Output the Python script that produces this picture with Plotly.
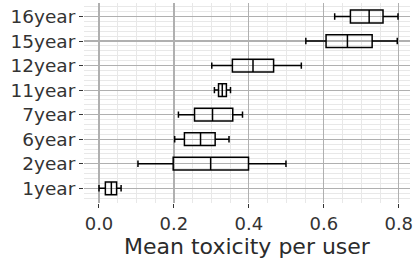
import plotly.graph_objects as go

categories = ["1year", "2year", "6year", "7year", "11year", "12year", "15year", "16year"]
lower = [0.000, 0.104, 0.202, 0.212, 0.308, 0.301, 0.552, 0.629]
q1 = [0.017, 0.198, 0.228, 0.255, 0.319, 0.356, 0.606, 0.671]
median = [0.033, 0.298, 0.271, 0.303, 0.329, 0.411, 0.663, 0.721]
q3 = [0.047, 0.399, 0.310, 0.357, 0.340, 0.466, 0.729, 0.758]
upper = [0.059, 0.499, 0.347, 0.383, 0.351, 0.540, 0.796, 0.798]
x_ticks = [0.0, 0.2, 0.4, 0.6, 0.8]
x_ticktext = ["0.0", "0.2", "0.4", "0.6", "0.8"]

pos = list(range(len(categories)))

fig = go.Figure()
fig.add_trace(go.Box(
    orientation="h",
    y=pos,
    q1=q1, median=median, q3=q3,
    lowerfence=lower, upperfence=upper,
    width=0.52,
    whiskerwidth=0.5,
    fillcolor="rgba(255,255,255,0)",
    line=dict(color="black", width=1.5),
    boxpoints=False,
    hoverinfo="skip",
))

font = "DejaVu Sans"
fig.update_layout(
    width=416, height=261,
    margin=dict(l=84, r=6, t=3, b=58),
    plot_bgcolor="white", paper_bgcolor="white",
    showlegend=False,
    font=dict(family=font, color="#2b2b2b", size=18),
)
fig.update_xaxes(
    range=[-0.04, 0.83],
    tickvals=x_ticks, ticktext=x_ticktext,
    tickfont=dict(size=18, color="#333333"),
    ticks="outside", ticklen=4, tickcolor="#333333", tickwidth=1,
    showgrid=True, gridcolor="#b0b0b0", gridwidth=1.2,
    minor=dict(dtick=0.05, tick0=0, showgrid=True, gridcolor="#e8e8e8", gridwidth=1),
    zeroline=False, showline=False, automargin=False,
    title=dict(text="Mean toxicity per user", font=dict(size=22, color="#2b2b2b"), standoff=4),
)
fig.update_yaxes(
    range=[-0.6, 7.55],
    tickvals=pos, ticktext=categories,
    tickfont=dict(size=18.5, color="#333333"),
    ticks="outside", ticklen=4, tickcolor="#333333", tickwidth=1,
    showgrid=True, gridcolor="#b0b0b0", gridwidth=1.2,
    minor=dict(dtick=0.2, tick0=0, showgrid=True, gridcolor="#e8e8e8", gridwidth=1),
    zeroline=False, showline=False, automargin=False,
)

fig.write_html(
    "out.html",
    config={"displayModeBar": False, "staticPlot": True},
    post_script="document.body.style.margin='0';document.body.style.overflow='hidden';",
)
